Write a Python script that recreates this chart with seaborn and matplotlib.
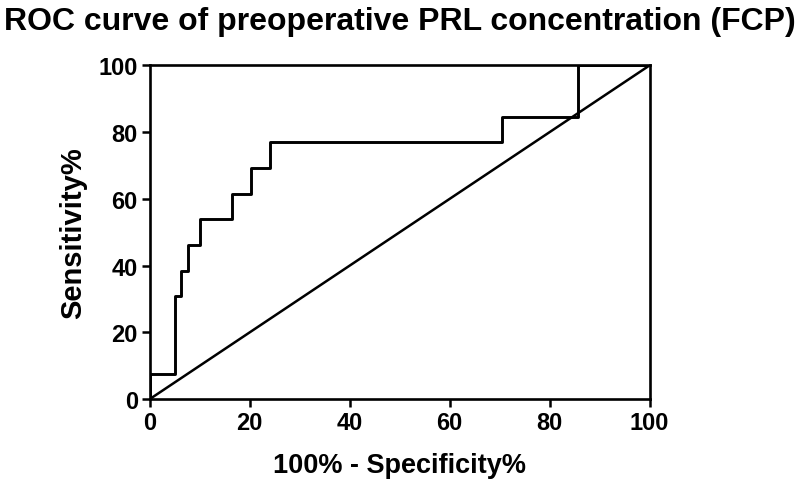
import matplotlib
matplotlib.use("Agg")
import matplotlib.pyplot as plt
import seaborn as sns
import pandas as pd

# ROC curve step points (100% - Specificity%, Sensitivity%)
fpr = [0, 0, 5.06, 6.33, 7.59, 10.13, 16.46, 20.25, 24.05, 70.5, 85.6, 100]
tpr = [0, 7.69, 30.77, 38.46, 46.15, 53.85, 61.54, 69.23, 76.92, 84.62, 100, 100]
ref_x = [0, 100]
ref_y = [0, 100]
ticks = [0, 20, 40, 60, 80, 100]

title = "ROC curve of preoperative PRL concentration (FCP)"
xlabel = "100% - Specificity%"
ylabel = "Sensitivity%"

sns.set_style("white")
plt.rcParams['font.family'] = ['Liberation Sans', 'DejaVu Sans']
for k in ["text.color", "axes.labelcolor", "xtick.color", "ytick.color"]:
    plt.rcParams[k] = "black"

fig = plt.figure(figsize=(8, 4.81), dpi=100)
ax = fig.add_axes([0.187, 0.168, 0.625, 0.694])

roc = pd.DataFrame({"fpr": fpr, "tpr": tpr})
ref = pd.DataFrame({"x": ref_x, "y": ref_y})
sns.lineplot(data=roc, x="fpr", y="tpr", ax=ax, color="black", linewidth=2.1,
             estimator=None, sort=False, drawstyle="steps-post")
sns.lineplot(data=ref, x="x", y="y", ax=ax, color="black", linewidth=1.8,
             estimator=None, sort=False)

ax.set_xlim(0, 100)
ax.set_ylim(0, 100)
ax.set_xticks(ticks)
ax.set_yticks(ticks)
ax.set_xticklabels([str(t) for t in ticks], fontsize=17, fontweight="bold")
ax.set_yticklabels([str(t) for t in ticks], fontsize=17, fontweight="bold")
ax.tick_params(axis="both", direction="out", length=6, width=1.8, color="black",
               bottom=True, left=True, top=False, right=False, pad=2.5)
for s in ax.spines.values():
    s.set_visible(True)
    s.set_color("black")
    s.set_linewidth(1.9)
ax.set_xlabel(xlabel, fontsize=19.5, fontweight="bold", labelpad=13)
ax.set_ylabel(ylabel, fontsize=21, fontweight="bold", labelpad=8)
fig.text(0.5, 0.938, title, fontsize=23, fontweight="bold", ha="center", va="baseline")

fig.savefig("out.png", dpi=100)
